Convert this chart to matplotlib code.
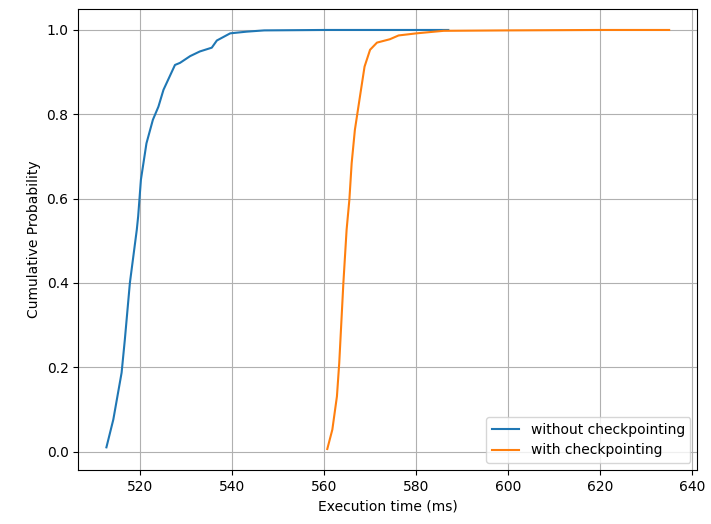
import matplotlib.pyplot as plt

# execution times (ms) and cumulative probability
t_without = [512.7, 514.2, 516.0, 516.7, 517.8, 519.3, 519.6, 520.2, 521.4, 522.8,
             524.0, 525.1, 527.6, 528.7, 530.9, 533.0, 535.6, 536.7, 539.6, 543.2,
             547.0, 560.0, 587.0]
p_without = [0.010, 0.076, 0.187, 0.265, 0.400, 0.526, 0.558, 0.645, 0.731, 0.787,
             0.818, 0.858, 0.917, 0.922, 0.938, 0.949, 0.958, 0.975, 0.992, 0.996,
             0.999, 1.000, 1.000]

t_with = [560.7, 561.8, 562.8, 563.3, 564.2, 564.9, 565.5, 566.0, 566.7, 567.8,
          568.8, 570.0, 571.5, 574.3, 576.2, 580.1, 586.0, 600.0, 620.0, 635.0]
p_with = [0.006, 0.052, 0.131, 0.210, 0.400, 0.526, 0.597, 0.684, 0.763, 0.842,
          0.913, 0.953, 0.970, 0.978, 0.987, 0.992, 0.998, 0.999, 1.000, 1.000]

fig = plt.figure(figsize=(7.11, 5.24), dpi=100)
ax = fig.add_axes([0.1101, 0.1031, 0.8706, 0.8797])

ax.plot(t_without, p_without, label="without checkpointing")
ax.plot(t_with, p_with, label="with checkpointing")

ax.set_xlabel("Execution time (ms)")
ax.set_ylabel("Cumulative Probability")
ax.grid(True)
ax.legend(loc="lower right")

fig.savefig("out.png", dpi=100)
plt.close(fig)
